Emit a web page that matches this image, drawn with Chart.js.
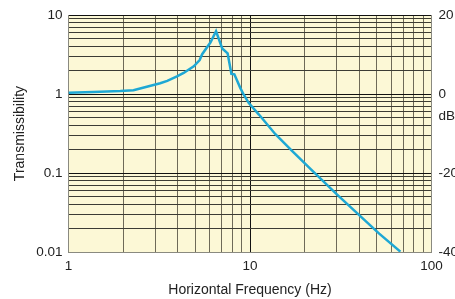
<!DOCTYPE html>
<html>
<head>
<meta charset="utf-8">
<script src="https://cdn.jsdelivr.net/npm/chart.js@4/dist/chart.umd.min.js"></script>
<style>
html,body{margin:0;padding:0;background:#fff;overflow:hidden;}
#wrap{position:relative;width:470px;height:299px;}
</style>
</head>
<body>
<div id="wrap"><canvas id="c"></canvas></div>
<script>
// Data
const frequency = [1.0, 1.37, 1.93, 2.28, 2.7, 3.2, 3.5, 3.96, 4.31, 4.9, 5.28, 5.45, 6.05, 6.5, 7.03, 7.53, 7.9, 8.2, 8.85, 9.24, 9.85, 11.2, 13.8, 17.1, 21.6, 30.3, 40.8, 51.5, 67.4];
const transmissibility = [1.04, 1.06, 1.09, 1.12, 1.24, 1.37, 1.47, 1.67, 1.85, 2.25, 2.7, 3.2, 4.5, 6.25, 3.78, 3.27, 1.8, 1.78, 1.19, 0.98, 0.77, 0.55, 0.31, 0.19, 0.112, 0.053, 0.028, 0.0171, 0.0101];
const xDecades = [1, 10, 100];
const yDecades = [0.01, 0.1, 1, 10];
const dbLabels = ['-40', '-20', '0', '20'];
const dbUnitLabel = 'dB';
const dbUnitPos = 0.525;

function allTicks(decades) {
  const out = [];
  for (let i = 0; i < decades.length - 1; i++) {
    for (let m = 1; m < 10; m++) out.push(+(decades[i] * m).toPrecision(6));
  }
  out.push(decades[decades.length - 1]);
  return out;
}
function isMajor(v, decades) {
  return decades.some(d => Math.abs(v / d - 1) < 1e-6);
}

const font = {family: '"Liberation Sans", Arial, sans-serif', size: 13.5};
const titleFont = {family: '"Liberation Sans", Arial, sans-serif', size: 14};

new Chart(document.getElementById('c'), {
  type: 'scatter',
  data: {
    datasets: [{
      data: frequency.map((f, i) => ({x: f, y: transmissibility[i]})),
      showLine: true,
      borderColor: '#1ea8d4',
      borderWidth: 2.5,
      pointRadius: 0,
      tension: 0,
      yAxisID: 'y'
    }]
  },
  options: {
    responsive: true,
    maintainAspectRatio: false,
    devicePixelRatio: 1,
    animation: false,
    layout: {padding: {top: 13, left: 0, right: 0, bottom: 0}},
    plugins: {legend: {display: false}, tooltip: {enabled: false}},
    scales: {
      x: {
        type: 'logarithmic',
        min: 1, max: 100,
        afterBuildTicks: s => { s.ticks = allTicks(xDecades).map(v => ({value: v})); },
        afterFit: s => { s.height = 47; },
        ticks: {
          autoSkip: false, maxRotation: 0, padding: 6, color: '#222', font: font,
          callback: v => isMajor(v, xDecades) ? String(v) : ''
        },
        grid: {
          drawTicks: false, lineWidth: 1,
          color: c => isMajor(c.tick.value, xDecades) ? '#111' : '#6e6a58'
        },
        border: {display: true, color: '#8a8a80', width: 1},
        title: {display: true, text: 'Horizontal Frequency (Hz)', color: '#222', font: titleFont, padding: {top: 0, bottom: 0}}
      },
      y: {
        type: 'logarithmic',
        position: 'left',
        min: 0.01, max: 10,
        afterBuildTicks: s => { s.ticks = allTicks(yDecades).map(v => ({value: v})); },
        afterFit: s => { s.width = 68.5; },
        ticks: {
          autoSkip: false, padding: 6, color: '#222', font: font,
          callback: v => isMajor(v, yDecades) ? String(v) : ''
        },
        grid: {
          drawTicks: false, lineWidth: 1,
          color: c => isMajor(c.tick.value, yDecades) ? '#111' : '#3c3c34'
        },
        border: {display: true, color: '#8a8a80', width: 1},
        title: {display: true, text: 'Transmissibility', color: '#222', font: titleFont, padding: {top: 12, bottom: 0}}
      },
      y2: {
        type: 'logarithmic',
        position: 'right',
        min: 0.01, max: 10,
        afterBuildTicks: s => { s.ticks = yDecades.map(v => ({value: v})).concat([{value: dbUnitPos}]); },
        afterFit: s => { s.width = 38.5; },
        ticks: {
          autoSkip: false, padding: 7, color: '#222', font: font,
          callback: v => {
            const i = yDecades.findIndex(d => Math.abs(v / d - 1) < 1e-6);
            return i >= 0 ? dbLabels[i] : dbUnitLabel;
          }
        },
        grid: {display: false, drawTicks: false},
        border: {display: true, color: '#8a8a80', width: 1}
      }
    }
  },
  plugins: [{
    id: 'bg',
    beforeDraw(chart) {
      const {ctx, chartArea: a} = chart;
      ctx.save();
      ctx.fillStyle = '#fcf8d6';
      ctx.fillRect(a.left, a.top, a.right - a.left, a.bottom - a.top);
      ctx.restore();
    }
  }]
});
</script>
</body>
</html>
